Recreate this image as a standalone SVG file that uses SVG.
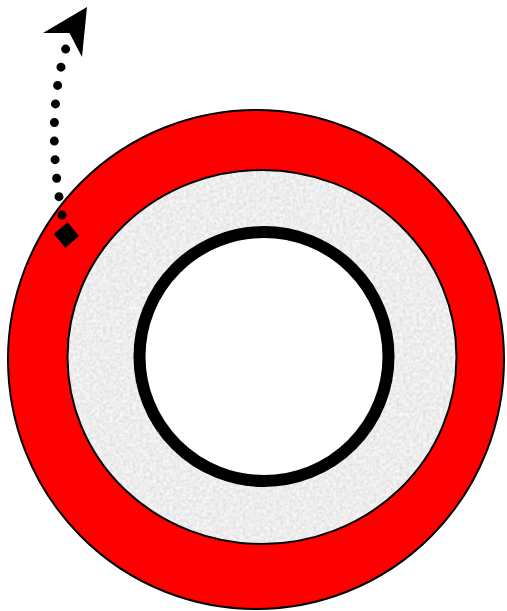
<svg xmlns="http://www.w3.org/2000/svg" width="507" height="611" viewBox="0 0 507 611">
  <style>
    .edge { stroke: #000; stroke-width: 2; }
    .dots { fill: none; stroke: #000; stroke-width: 9; stroke-linecap: round; stroke-dasharray: 0 18.6; }
  </style>
  <defs>
    <filter id="grain" x="0" y="0" width="1" height="1" color-interpolation-filters="sRGB">
      <feTurbulence type="fractalNoise" baseFrequency="0.3" numOctaves="2" seed="4" result="n"/>
      <feColorMatrix in="n" type="matrix" values="0.16 0 0 0 0.85  0.16 0 0 0 0.85  0.16 0 0 0 0.85  0 0 0 0 1" result="g"/>
      <feComposite in="g" in2="SourceGraphic" operator="in"/>
    </filter>
  </defs>
  <rect width="507" height="611" fill="#fff"/>
  <g id="outer-ring">
    <ellipse cx="256" cy="359.5" rx="248" ry="249.5" fill="#ff0000" class="edge"/>
  </g>
  <g id="gray-layer">
    <ellipse cx="262" cy="357" rx="194.5" ry="187" fill="#ececec" filter="url(#grain)"/>
    <ellipse cx="262" cy="357" rx="194.5" ry="187" fill="none" class="edge"/>
  </g>
  <g id="inner-circle">
    <circle cx="264" cy="356.5" r="124.5" fill="#fff" stroke="#000" stroke-width="12"/>
  </g>
  <g id="marker-square">
    <rect x="-9" y="-9" width="18" height="18" fill="#000" transform="translate(66.5 235) rotate(-40)"/>
  </g>
  <g id="connectors">
    <path class="dots" d="M62 215 C52 160 50 100 66 48"/>
    <path d="M87 7 L82 57 L69.5 33 L43 33 Z" fill="#000"/>
  </g>
</svg>
